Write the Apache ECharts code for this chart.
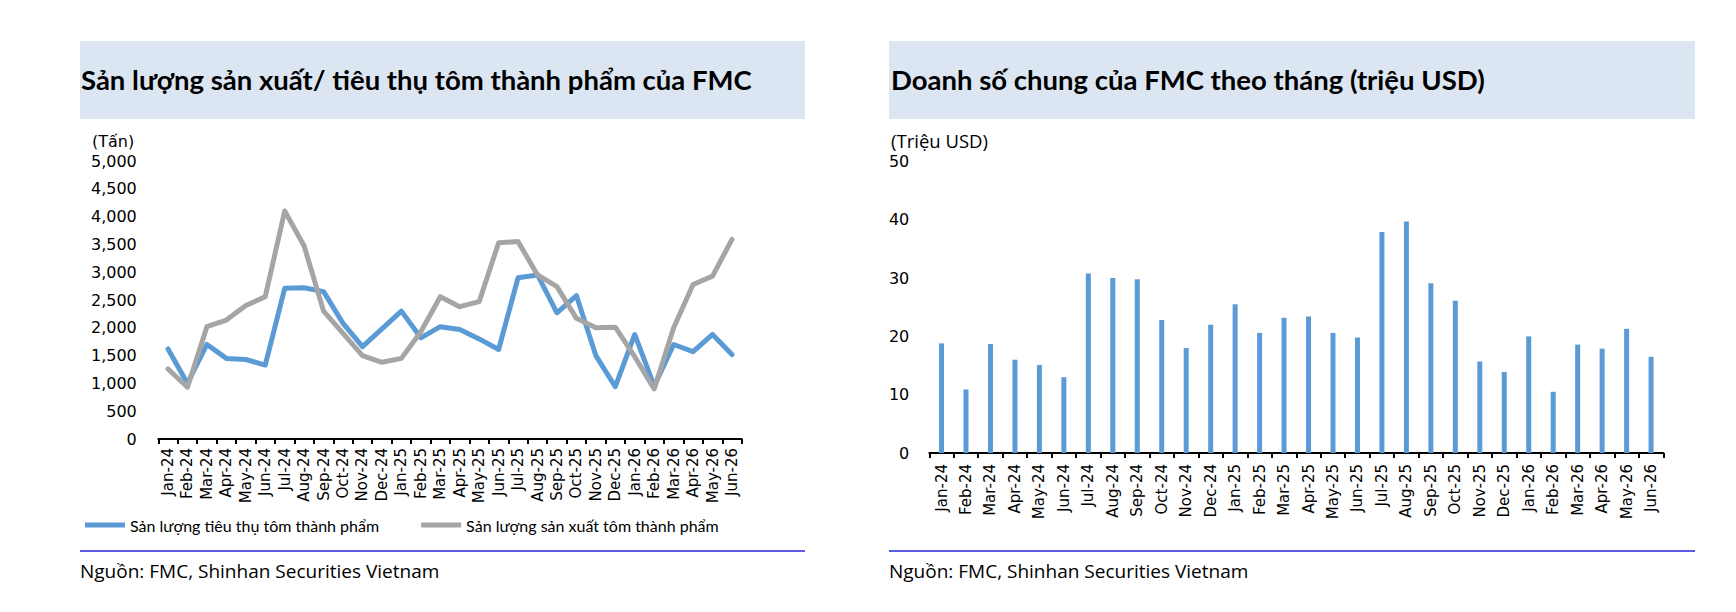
<!DOCTYPE html>
<html>
<head>
<meta charset="utf-8">
<script src="https://cdn.jsdelivr.net/npm/echarts@6/dist/echarts.min.js"></script>
<style>
html,body{margin:0;padding:0;background:#fff;}
#c{width:1736px;height:612px;}
</style>
</head>
<body>
<div id="c"></div>
<script>
const months = ['Jan-24','Feb-24','Mar-24','Apr-24','May-24','Jun-24','Jul-24','Aug-24','Sep-24','Oct-24','Nov-24','Dec-24',
  'Jan-25','Feb-25','Mar-25','Apr-25','May-25','Jun-25','Jul-25','Aug-25','Sep-25','Oct-25','Nov-25','Dec-25',
  'Jan-26','Feb-26','Mar-26','Apr-26','May-26','Jun-26'];
const consumption = [1620,1000,1700,1450,1430,1330,2710,2720,2650,2080,1660,1980,2300,1820,2020,1970,1800,1610,2900,2950,2270,2580,1500,940,1880,950,1700,1570,1880,1520];
const production = [1260,930,2020,2140,2400,2560,4100,3470,2300,1900,1500,1380,1450,1930,2560,2380,2470,3530,3550,2950,2740,2170,2000,2010,1480,900,2000,2780,2930,3590];
const revenue = [18.8,10.9,18.7,16.0,15.1,13.0,30.8,30.0,29.8,22.8,18.0,22.0,25.5,20.6,23.2,23.4,20.6,19.8,37.9,39.7,29.1,26.1,15.7,13.9,20.0,10.5,18.6,17.9,21.3,16.5];
const seriesNames = ['Sản lượng tiêu thụ tôm thành phẩm','Sản lượng sản xuất tôm thành phẩm'];
const titleLeft = 'Sản lượng sản xuất/ tiêu thụ tôm thành phẩm của FMC';
const titleRight = 'Doanh số chung của FMC theo tháng (triệu USD)';
const unitLeft = '(Tấn)';
const unitRight = '(Triệu USD)';
const sourceText = 'Nguồn: FMC, Shinhan Securities Vietnam';

const BLUE = '#5B9BD5', GRAY = '#A5A5A5', BOX = '#DCE6F2', SEP = '#2424DC';
const F = 'Lato, "Open Sans", sans-serif';
const DV = '"DejaVu Sans", sans-serif';

const chart = echarts.init(document.getElementById('c'), null, {renderer:'svg'});

const xAxisCommon = (margin) => ({
  type:'category', data: months, boundaryGap:true,
  axisLine:{show:true, lineStyle:{color:'#000', width:2}},
  axisTick:{show:true, length:5, lineStyle:{color:'#000', width:2}},
  axisLabel:{rotate:90, interval:0, margin:margin, color:'#000', fontFamily:DV, fontSize:15}
});
const yAxisCommon = (max, interval, fmt, margin) => ({
  type:'value', min:0, max:max, interval:interval,
  axisLine:{show:false}, axisTick:{show:false}, splitLine:{show:false},
  axisLabel:{color:'#000', fontFamily:DV, fontSize:16, margin:margin, formatter:fmt}
});

const option = {
  animation:false,
  backgroundColor:'#fff',
  graphic:[
    {type:'rect', shape:{x:80, y:41, width:725, height:78}, style:{fill:BOX}, silent:true, z:-10},
    {type:'rect', shape:{x:889, y:41, width:806, height:78}, style:{fill:BOX}, silent:true, z:-10},
    {type:'text', left:81, top:65, style:{text:titleLeft, font:'bold 27.5px ' + F, fill:'#000'}},
    {type:'text', left:891, top:65, style:{text:titleRight, font:'bold 27.5px ' + F, fill:'#000'}},
    {type:'text', left:92, top:133, style:{text:unitLeft, font:'16px ' + DV, fill:'#000'}},
    {type:'text', left:891, top:131, style:{text:unitRight, font:'18.5px "Open Sans", sans-serif', fill:'#000'}},
    {type:'line', shape:{x1:80, y1:551, x2:805, y2:551}, style:{stroke:SEP, lineWidth:1.5}},
    {type:'line', shape:{x1:889, y1:551, x2:1695, y2:551}, style:{stroke:SEP, lineWidth:1.5}},
    {type:'text', left:80, top:561, style:{text:sourceText, font:'19px "Open Sans", sans-serif', fill:'#000'}},
    {type:'text', left:889, top:561, style:{text:sourceText, font:'19px "Open Sans", sans-serif', fill:'#000'}}
  ],
  legend:{
    left:80, top:512, icon:'rect', itemWidth:40, itemHeight:5, itemGap:42,
    data: seriesNames,
    textStyle:{fontFamily:F, fontSize:16, color:'#000'}
  },
  grid:[
    {left:158.3, right:1736-741.7, top:161, bottom:612-439},
    {left:929.3, right:1736-1663.3, top:161.5, bottom:612-453}
  ],
  xAxis:[
    Object.assign(xAxisCommon(9), {gridIndex:0}),
    Object.assign(xAxisCommon(11), {gridIndex:1})
  ],
  yAxis:[
    Object.assign(yAxisCommon(5000, 500, v => v.toLocaleString('en-US'), 21.5), {gridIndex:0}),
    Object.assign(yAxisCommon(50, 10, v => String(v), 20), {gridIndex:1})
  ],
  series:[
    {name:seriesNames[0], type:'line', xAxisIndex:0, yAxisIndex:0, data:consumption, symbol:'none',
     lineStyle:{color:BLUE, width:5, cap:'round', join:'round'}, itemStyle:{color:BLUE}, z:3},
    {name:seriesNames[1], type:'line', xAxisIndex:0, yAxisIndex:0, data:production, symbol:'none',
     lineStyle:{color:GRAY, width:5, cap:'round', join:'round'}, itemStyle:{color:GRAY}, z:4},
    {name:'Doanh số', type:'bar', xAxisIndex:1, yAxisIndex:1, data:revenue, barWidth:5,
     itemStyle:{color:BLUE}}
  ]
};
chart.setOption(option);
</script>
</body>
</html>
